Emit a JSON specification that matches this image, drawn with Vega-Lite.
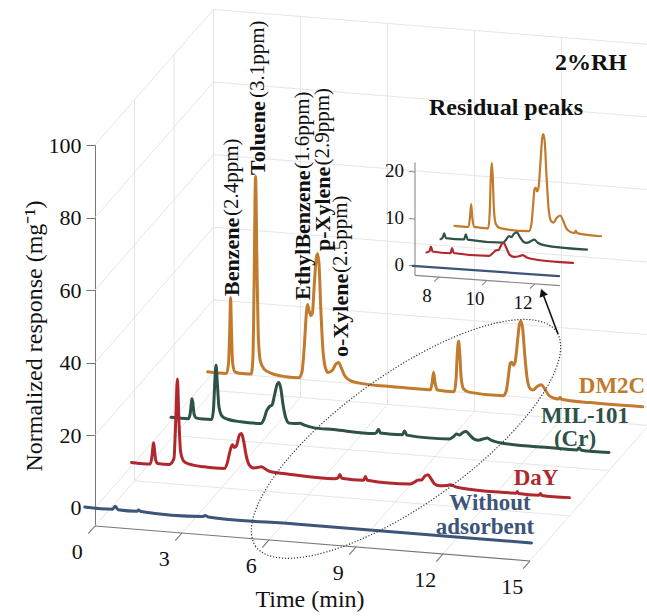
{
  "$schema": "https://vega.github.io/schema/vega-lite/v6.json",
  "width": 552,
  "height": 381,
  "autosize": "none",
  "padding": {"left": 95, "top": 145, "right": 0, "bottom": 90},
  "datasets": {
    "traces": [
      {"s": "DM2C", "t": -0.2, "z": 0}, {"s": "DM2C", "t": 0.45, "z": 0}, {"s": "DM2C", "t": 0.52, "z": 3}, {"s": "DM2C", "t": 0.56, "z": 12}, {"s": "DM2C", "t": 0.59, "z": 21}, {"s": "DM2C", "t": 0.62, "z": 12}, {"s": "DM2C", "t": 0.66, "z": 3}, {"s": "DM2C", "t": 0.74, "z": 0.6}, {"s": "DM2C", "t": 0.9, "z": 0.3},
      {"s": "DM2C", "t": 1.3, "z": 0.4}, {"s": "DM2C", "t": 1.36, "z": 5}, {"s": "DM2C", "t": 1.4, "z": 25}, {"s": "DM2C", "t": 1.45, "z": 55}, {"s": "DM2C", "t": 1.5, "z": 30}, {"s": "DM2C", "t": 1.55, "z": 10}, {"s": "DM2C", "t": 1.62, "z": 4}, {"s": "DM2C", "t": 1.75, "z": 2}, {"s": "DM2C", "t": 2.0, "z": 1}, {"s": "DM2C", "t": 2.5, "z": 0.4},
      {"s": "DM2C", "t": 2.95, "z": 0.4}, {"s": "DM2C", "t": 3.05, "z": 2}, {"s": "DM2C", "t": 3.13, "z": 9}, {"s": "DM2C", "t": 3.2, "z": 18}, {"s": "DM2C", "t": 3.24, "z": 20.8}, {"s": "DM2C", "t": 3.3, "z": 19}, {"s": "DM2C", "t": 3.36, "z": 17.8}, {"s": "DM2C", "t": 3.41, "z": 18.5}, {"s": "DM2C", "t": 3.48, "z": 27}, {"s": "DM2C", "t": 3.55, "z": 34}, {"s": "DM2C", "t": 3.59, "z": 35}, {"s": "DM2C", "t": 3.64, "z": 32}, {"s": "DM2C", "t": 3.7, "z": 20}, {"s": "DM2C", "t": 3.77, "z": 9}, {"s": "DM2C", "t": 3.85, "z": 4}, {"s": "DM2C", "t": 3.95, "z": 2.5},
      {"s": "DM2C", "t": 4.1, "z": 3.2}, {"s": "DM2C", "t": 4.22, "z": 5}, {"s": "DM2C", "t": 4.31, "z": 5.5}, {"s": "DM2C", "t": 4.4, "z": 4.2}, {"s": "DM2C", "t": 4.52, "z": 2}, {"s": "DM2C", "t": 4.7, "z": 0.8}, {"s": "DM2C", "t": 5.0, "z": 0.3}, {"s": "DM2C", "t": 6.0, "z": 0}, {"s": "DM2C", "t": 6.9, "z": 0},
      {"s": "DM2C", "t": 7.48, "z": 0}, {"s": "DM2C", "t": 7.54, "z": 2}, {"s": "DM2C", "t": 7.59, "z": 4.9}, {"s": "DM2C", "t": 7.64, "z": 2}, {"s": "DM2C", "t": 7.72, "z": 0.1},
      {"s": "DM2C", "t": 8.3, "z": 0}, {"s": "DM2C", "t": 8.36, "z": 3}, {"s": "DM2C", "t": 8.41, "z": 11}, {"s": "DM2C", "t": 8.45, "z": 14}, {"s": "DM2C", "t": 8.49, "z": 11}, {"s": "DM2C", "t": 8.54, "z": 4}, {"s": "DM2C", "t": 8.62, "z": 1}, {"s": "DM2C", "t": 8.8, "z": 0.2},
      {"s": "DM2C", "t": 10.0, "z": 0}, {"s": "DM2C", "t": 10.1, "z": 1.5}, {"s": "DM2C", "t": 10.17, "z": 5.5}, {"s": "DM2C", "t": 10.23, "z": 9}, {"s": "DM2C", "t": 10.28, "z": 9.4}, {"s": "DM2C", "t": 10.34, "z": 8.6}, {"s": "DM2C", "t": 10.4, "z": 9.5}, {"s": "DM2C", "t": 10.48, "z": 15}, {"s": "DM2C", "t": 10.55, "z": 20}, {"s": "DM2C", "t": 10.6, "z": 20.9}, {"s": "DM2C", "t": 10.66, "z": 19}, {"s": "DM2C", "t": 10.73, "z": 12}, {"s": "DM2C", "t": 10.82, "z": 5}, {"s": "DM2C", "t": 10.92, "z": 2.5},
      {"s": "DM2C", "t": 11.02, "z": 2.2}, {"s": "DM2C", "t": 11.15, "z": 3.2}, {"s": "DM2C", "t": 11.3, "z": 3.8}, {"s": "DM2C", "t": 11.42, "z": 2.8}, {"s": "DM2C", "t": 11.55, "z": 1.2}, {"s": "DM2C", "t": 11.75, "z": 0.4}, {"s": "DM2C", "t": 11.9, "z": 0.3}, {"s": "DM2C", "t": 11.95, "z": 0.8}, {"s": "DM2C", "t": 12.0, "z": 0.3}, {"s": "DM2C", "t": 13.0, "z": 0}, {"s": "DM2C", "t": 14.8, "z": 0},

      {"s": "MIL-101", "t": -0.1, "z": 0}, {"s": "MIL-101", "t": 0.5, "z": 0}, {"s": "MIL-101", "t": 0.56, "z": 1.5}, {"s": "MIL-101", "t": 0.6, "z": 4.5}, {"s": "MIL-101", "t": 0.62, "z": 5.6}, {"s": "MIL-101", "t": 0.65, "z": 4.5}, {"s": "MIL-101", "t": 0.69, "z": 1.5}, {"s": "MIL-101", "t": 0.76, "z": 0.4}, {"s": "MIL-101", "t": 1.0, "z": 0.2},
      {"s": "MIL-101", "t": 1.3, "z": 0.3}, {"s": "MIL-101", "t": 1.36, "z": 3}, {"s": "MIL-101", "t": 1.41, "z": 11}, {"s": "MIL-101", "t": 1.45, "z": 15.3}, {"s": "MIL-101", "t": 1.49, "z": 11}, {"s": "MIL-101", "t": 1.55, "z": 4}, {"s": "MIL-101", "t": 1.65, "z": 1.5}, {"s": "MIL-101", "t": 1.85, "z": 0.7}, {"s": "MIL-101", "t": 2.3, "z": 0.3},
      {"s": "MIL-101", "t": 3.0, "z": 0.3}, {"s": "MIL-101", "t": 3.1, "z": 1.5}, {"s": "MIL-101", "t": 3.2, "z": 4}, {"s": "MIL-101", "t": 3.3, "z": 5.2}, {"s": "MIL-101", "t": 3.38, "z": 5.6}, {"s": "MIL-101", "t": 3.47, "z": 8.5}, {"s": "MIL-101", "t": 3.56, "z": 11.5}, {"s": "MIL-101", "t": 3.62, "z": 12}, {"s": "MIL-101", "t": 3.68, "z": 10.5}, {"s": "MIL-101", "t": 3.76, "z": 6}, {"s": "MIL-101", "t": 3.85, "z": 2.5}, {"s": "MIL-101", "t": 3.97, "z": 1},
      {"s": "MIL-101", "t": 4.15, "z": 1}, {"s": "MIL-101", "t": 4.34, "z": 1.2}, {"s": "MIL-101", "t": 4.5, "z": 0.8}, {"s": "MIL-101", "t": 4.8, "z": 0.3}, {"s": "MIL-101", "t": 5.5, "z": 0.2}, {"s": "MIL-101", "t": 6.9, "z": 0},
      {"s": "MIL-101", "t": 6.98, "z": 0.3}, {"s": "MIL-101", "t": 7.05, "z": 1.3}, {"s": "MIL-101", "t": 7.12, "z": 0.3}, {"s": "MIL-101", "t": 7.88, "z": 0.3}, {"s": "MIL-101", "t": 7.95, "z": 1.4}, {"s": "MIL-101", "t": 8.03, "z": 0.3},
      {"s": "MIL-101", "t": 9.5, "z": 0.2}, {"s": "MIL-101", "t": 9.62, "z": 0.8}, {"s": "MIL-101", "t": 9.75, "z": 1.7}, {"s": "MIL-101", "t": 9.85, "z": 1.5}, {"s": "MIL-101", "t": 9.95, "z": 2.2}, {"s": "MIL-101", "t": 10.08, "z": 2.6}, {"s": "MIL-101", "t": 10.2, "z": 1.7}, {"s": "MIL-101", "t": 10.35, "z": 0.7}, {"s": "MIL-101", "t": 10.5, "z": 0.5}, {"s": "MIL-101", "t": 10.65, "z": 0.9}, {"s": "MIL-101", "t": 10.8, "z": 1.3}, {"s": "MIL-101", "t": 10.95, "z": 0.7}, {"s": "MIL-101", "t": 11.2, "z": 0.3},
      {"s": "MIL-101", "t": 13.0, "z": 0}, {"s": "MIL-101", "t": 13.9, "z": 0}, {"s": "MIL-101", "t": 13.97, "z": 0.6}, {"s": "MIL-101", "t": 14.05, "z": 0}, {"s": "MIL-101", "t": 15.0, "z": 0},

      {"s": "DaY", "t": -0.1, "z": 0}, {"s": "DaY", "t": 0.55, "z": 0}, {"s": "DaY", "t": 0.6, "z": 2}, {"s": "DaY", "t": 0.64, "z": 5}, {"s": "DaY", "t": 0.66, "z": 5.9}, {"s": "DaY", "t": 0.69, "z": 4}, {"s": "DaY", "t": 0.73, "z": 1.2}, {"s": "DaY", "t": 0.8, "z": 0.3},
      {"s": "DaY", "t": 1.2, "z": 0.3}, {"s": "DaY", "t": 1.36, "z": 2}, {"s": "DaY", "t": 1.42, "z": 12}, {"s": "DaY", "t": 1.48, "z": 24}, {"s": "DaY", "t": 1.53, "z": 13}, {"s": "DaY", "t": 1.59, "z": 4}, {"s": "DaY", "t": 1.7, "z": 1.5}, {"s": "DaY", "t": 1.9, "z": 0.8}, {"s": "DaY", "t": 2.4, "z": 0.4},
      {"s": "DaY", "t": 3.1, "z": 0.4}, {"s": "DaY", "t": 3.2, "z": 2}, {"s": "DaY", "t": 3.3, "z": 5.5}, {"s": "DaY", "t": 3.38, "z": 7.1}, {"s": "DaY", "t": 3.45, "z": 6.4}, {"s": "DaY", "t": 3.52, "z": 7}, {"s": "DaY", "t": 3.62, "z": 10}, {"s": "DaY", "t": 3.69, "z": 10.4}, {"s": "DaY", "t": 3.76, "z": 8.5}, {"s": "DaY", "t": 3.85, "z": 4.5}, {"s": "DaY", "t": 3.95, "z": 2},
      {"s": "DaY", "t": 4.1, "z": 1.2}, {"s": "DaY", "t": 4.25, "z": 1.4}, {"s": "DaY", "t": 4.38, "z": 1.7}, {"s": "DaY", "t": 4.5, "z": 1.2}, {"s": "DaY", "t": 4.7, "z": 0.5}, {"s": "DaY", "t": 5.2, "z": 0.3}, {"s": "DaY", "t": 6.9, "z": 0},
      {"s": "DaY", "t": 7.02, "z": 0.3}, {"s": "DaY", "t": 7.08, "z": 1.3}, {"s": "DaY", "t": 7.15, "z": 0.3}, {"s": "DaY", "t": 7.9, "z": 0.2}, {"s": "DaY", "t": 7.96, "z": 1.3}, {"s": "DaY", "t": 8.03, "z": 0.3},
      {"s": "DaY", "t": 9.5, "z": 0.2}, {"s": "DaY", "t": 9.65, "z": 0.8}, {"s": "DaY", "t": 9.79, "z": 1.5}, {"s": "DaY", "t": 9.9, "z": 1.6}, {"s": "DaY", "t": 10.02, "z": 2.8}, {"s": "DaY", "t": 10.12, "z": 3.2}, {"s": "DaY", "t": 10.22, "z": 2.2}, {"s": "DaY", "t": 10.35, "z": 0.8}, {"s": "DaY", "t": 10.55, "z": 0.4}, {"s": "DaY", "t": 10.75, "z": 0.6}, {"s": "DaY", "t": 10.9, "z": 0.9}, {"s": "DaY", "t": 11.05, "z": 0.5}, {"s": "DaY", "t": 11.3, "z": 0.2},
      {"s": "DaY", "t": 13.0, "z": 0}, {"s": "DaY", "t": 13.15, "z": 0}, {"s": "DaY", "t": 13.2, "z": 0.5}, {"s": "DaY", "t": 13.25, "z": 0}, {"s": "DaY", "t": 13.95, "z": 0}, {"s": "DaY", "t": 14.0, "z": 0.5}, {"s": "DaY", "t": 14.05, "z": 0}, {"s": "DaY", "t": 15.0, "z": 0},

      {"s": "Without adsorbent", "t": -0.35, "z": 0}, {"s": "Without adsorbent", "t": 0.6, "z": 0}, {"s": "Without adsorbent", "t": 0.7, "z": 0.9}, {"s": "Without adsorbent", "t": 0.8, "z": 0}, {"s": "Without adsorbent", "t": 1.45, "z": 0}, {"s": "Without adsorbent", "t": 1.5, "z": 0.4}, {"s": "Without adsorbent", "t": 1.58, "z": 0}, {"s": "Without adsorbent", "t": 3.7, "z": 0}, {"s": "Without adsorbent", "t": 3.8, "z": 0.3}, {"s": "Without adsorbent", "t": 3.9, "z": 0}, {"s": "Without adsorbent", "t": 6.9, "z": 0}, {"s": "Without adsorbent", "t": 13.0, "z": 0}, {"s": "Without adsorbent", "t": 15.05, "z": 0}
    ],
    "grid": [
      {"t1": 0, "d1": 0, "z1": -5, "t2": 0, "d2": 3, "z2": -5},
      {"t1": 3, "d1": 0, "z1": -5, "t2": 3, "d2": 3, "z2": -5},
      {"t1": 6, "d1": 0, "z1": -5, "t2": 6, "d2": 3, "z2": -5},
      {"t1": 9, "d1": 0, "z1": -5, "t2": 9, "d2": 3, "z2": -5},
      {"t1": 12, "d1": 0, "z1": -5, "t2": 12, "d2": 3, "z2": -5},
      {"t1": 15, "d1": 0, "z1": -5, "t2": 15, "d2": 3, "z2": -5},
      {"t1": 0, "d1": 1, "z1": -5, "t2": 15, "d2": 1, "z2": -5},
      {"t1": 0, "d1": 2, "z1": -5, "t2": 15, "d2": 2, "z2": -5},
      {"t1": 0, "d1": 3, "z1": -5, "t2": 15, "d2": 3, "z2": -5},
      {"t1": 0, "d1": 0, "z1": 0, "t2": 0, "d2": 3, "z2": 0},
      {"t1": 0, "d1": 0, "z1": 20, "t2": 0, "d2": 3, "z2": 20},
      {"t1": 0, "d1": 0, "z1": 40, "t2": 0, "d2": 3, "z2": 40},
      {"t1": 0, "d1": 0, "z1": 60, "t2": 0, "d2": 3, "z2": 60},
      {"t1": 0, "d1": 0, "z1": 80, "t2": 0, "d2": 3, "z2": 80},
      {"t1": 0, "d1": 0, "z1": 100, "t2": 0, "d2": 3, "z2": 100},
      {"t1": 0, "d1": 1, "z1": -5, "t2": 0, "d2": 1, "z2": 100},
      {"t1": 0, "d1": 2, "z1": -5, "t2": 0, "d2": 2, "z2": 100},
      {"t1": 0, "d1": 3, "z1": -5, "t2": 0, "d2": 3, "z2": 100},
      {"t1": 0, "d1": 3, "z1": 0, "t2": 15, "d2": 3, "z2": 0},
      {"t1": 0, "d1": 3, "z1": 20, "t2": 15, "d2": 3, "z2": 20},
      {"t1": 0, "d1": 3, "z1": 40, "t2": 15, "d2": 3, "z2": 40},
      {"t1": 0, "d1": 3, "z1": 60, "t2": 15, "d2": 3, "z2": 60},
      {"t1": 0, "d1": 3, "z1": 80, "t2": 15, "d2": 3, "z2": 80},
      {"t1": 0, "d1": 3, "z1": 100, "t2": 15, "d2": 3, "z2": 100},
      {"t1": 3, "d1": 3, "z1": -5, "t2": 3, "d2": 3, "z2": 100},
      {"t1": 6, "d1": 3, "z1": -5, "t2": 6, "d2": 3, "z2": 100},
      {"t1": 9, "d1": 3, "z1": -5, "t2": 9, "d2": 3, "z2": 100},
      {"t1": 12, "d1": 3, "z1": -5, "t2": 12, "d2": 3, "z2": 100},
      {"t1": 15, "d1": 3, "z1": -5, "t2": 15, "d2": 3, "z2": 100}
    ],
    "taxis": [
      {"t1": 0, "d1": 0, "z1": -5, "t2": 15, "d2": 0, "z2": -5},
      {"t1": 0, "d1": 0, "z1": -5, "t2": 0, "d2": -0.17, "z2": -5},
      {"t1": 3, "d1": 0, "z1": -5, "t2": 3, "d2": -0.17, "z2": -5},
      {"t1": 6, "d1": 0, "z1": -5, "t2": 6, "d2": -0.17, "z2": -5},
      {"t1": 9, "d1": 0, "z1": -5, "t2": 9, "d2": -0.17, "z2": -5},
      {"t1": 12, "d1": 0, "z1": -5, "t2": 12, "d2": -0.17, "z2": -5},
      {"t1": 15, "d1": 0, "z1": -5, "t2": 15, "d2": -0.17, "z2": -5}
    ],
    "tlabels": [
      {"t": 0, "label": "0"}, {"t": 3, "label": "3"}, {"t": 6, "label": "6"},
      {"t": 9, "label": "9"}, {"t": 12, "label": "12"}, {"t": 15, "label": "15"}
    ],
    "iaxis": [
      {"t1": 7, "d1": 0, "z1": -2, "t2": 7, "d2": 0, "z2": 22},
      {"t1": 6.75, "d1": 0, "z1": 0, "t2": 7, "d2": 0, "z2": 0},
      {"t1": 6.75, "d1": 0, "z1": 10, "t2": 7, "d2": 0, "z2": 10},
      {"t1": 6.75, "d1": 0, "z1": 20, "t2": 7, "d2": 0, "z2": 20},
      {"t1": 7, "d1": 0, "z1": -2, "t2": 13.04, "d2": 0, "z2": -2},
      {"t1": 8, "d1": 0, "z1": -2, "t2": 8, "d2": -0.35, "z2": -2},
      {"t1": 10, "d1": 0, "z1": -2, "t2": 10, "d2": -0.35, "z2": -2},
      {"t1": 12, "d1": 0, "z1": -2, "t2": 12, "d2": -0.35, "z2": -2}
    ],
    "ixlabels": [{"t": 8, "label": "8"}, {"t": 10, "label": "10"}, {"t": 12, "label": "12"}],
    "iylabels": [{"z": 0, "label": "0"}, {"z": 10, "label": "10"}, {"z": 20, "label": "20"}],
    "peaks": [
      {"name": "Benzene", "ppm": "(2.4ppm)", "t": 0.638, "z": 21.46, "zp": 43.5},
      {"name": "Toluene", "ppm": "(3.1ppm)", "t": 1.535, "z": 55.38, "zp": 76.56},
      {"name": "EthylBenzene", "ppm": "(1.6ppm)", "t": 3.086, "z": 21.93, "zp": 58.02},
      {"name": "p-Xylene", "ppm": "(2.9ppm)", "t": 3.776, "z": 35.87, "zp": 59.42},
      {"name": "o-Xylene", "ppm": "(2.5ppm)", "t": 4.397, "z": 7.07, "zp": 30.2}
    ],
    "serieslabels": [
      {"s": "DM2C", "text": "DM2C", "X": 17.828, "Y": 33.61},
      {"s": "MIL-101", "text": "MIL-101", "X": 16.897, "Y": 25.3},
      {"s": "MIL-101", "text": "(Cr)", "X": 16.552, "Y": 18.9},
      {"s": "DaY", "text": "DaY", "X": 15.207, "Y": 8.26},
      {"s": "Without adsorbent", "text": "Without", "X": 13.621, "Y": 1.3},
      {"s": "Without adsorbent", "text": "adsorbent", "X": 13.448, "Y": -5.2}
    ],
    "notes": [
      {"text": "2%RH", "X": 17.103, "Y": 122.59},
      {"text": "Residual peaks", "X": 14.172, "Y": 110.19}
    ],
    "xtitle": [{"text": "Time (min)", "X": 7.414, "Y": -25.34}],
    "ellipse": [{"X": 10.724, "Y": 19.01}],
    "arrow": [{"X": 15.966, "Y": 47.93, "X2": 15.428, "Y2": 59.34}],
    "arrowhead": [{"X": 15.428, "Y": 59.34}]
  },
  "encoding": {
    "x": {"field": "X", "type": "quantitative", "scale": {"domain": [0, 19.0345], "nice": false, "zero": false}, "axis": null},
    "y": {
      "field": "Y",
      "type": "quantitative",
      "scale": {"domain": [-5, 100], "nice": false, "zero": false},
      "axis": {
        "values": [0, 20, 40, 60, 80, 100],
        "title": "Normalized response (mg⁻¹)",
        "titleFont": "Liberation Serif",
        "titleFontSize": 24,
        "titleFontWeight": "normal",
        "titleColor": "#111",
        "titlePadding": 2,
        "labelFont": "Liberation Serif",
        "labelFontSize": 22,
        "labelColor": "#111",
        "labelPadding": 5,
        "tickSize": 9,
        "tickColor": "#777",
        "domainColor": "#777",
        "grid": false
      }
    }
  },
  "layer": [
    {
      "data": {"name": "grid"},
      "transform": [
        {"calculate": "datum.t1 + 1.362 * datum.d1", "as": "X"},
        {"calculate": "datum.z1 - 0.642 * datum.t1 + 12.45 * datum.d1", "as": "Y"},
        {"calculate": "datum.t2 + 1.362 * datum.d2", "as": "X2"},
        {"calculate": "datum.z2 - 0.642 * datum.t2 + 12.45 * datum.d2", "as": "Y2"}
      ],
      "mark": {"type": "rule", "color": "#e2e2e2", "strokeWidth": 0.9},
      "encoding": {"x2": {"field": "X2"}, "y2": {"field": "Y2"}}
    },
    {
      "data": {"name": "taxis"},
      "transform": [
        {"calculate": "datum.t1 + 1.362 * datum.d1", "as": "X"},
        {"calculate": "datum.z1 - 0.642 * datum.t1 + 12.45 * datum.d1", "as": "Y"},
        {"calculate": "datum.t2 + 1.362 * datum.d2", "as": "X2"},
        {"calculate": "datum.z2 - 0.642 * datum.t2 + 12.45 * datum.d2", "as": "Y2"}
      ],
      "mark": {"type": "rule", "color": "#777", "strokeWidth": 1.1},
      "encoding": {"x2": {"field": "X2"}, "y2": {"field": "Y2"}}
    },
    {
      "data": {"name": "traces"},
      "transform": [
        {"calculate": "indexof(['Without adsorbent', 'DaY', 'MIL-101', 'DM2C'], datum.s)", "as": "d"},
        {"calculate": "datum.t + 1.362 * datum.d", "as": "X"},
        {"calculate": "datum.z - 0.642 * datum.t + 12.45 * datum.d", "as": "Y"}
      ],
      "mark": {"type": "line", "interpolate": "monotone", "strokeWidth": 3, "strokeCap": "round", "strokeJoin": "round"},
      "encoding": {
        "color": {
          "field": "s",
          "type": "nominal",
          "scale": {"domain": ["DM2C", "MIL-101", "DaY", "Without adsorbent"], "range": ["#c27a2c", "#2f5248", "#b0282d", "#3c5578"]},
          "legend": null
        }
      }
    },
    {
      "data": {"name": "iaxis"},
      "transform": [
        {"calculate": "11.034 + 0.8276 * (datum.t1 - 7) + 0.4828 * datum.d1", "as": "X"},
        {"calculate": "66.667 + 1.2948 * datum.z1 - 0.4683 * (datum.t1 - 7) + 3.664 * datum.d1", "as": "Y"},
        {"calculate": "11.034 + 0.8276 * (datum.t2 - 7) + 0.4828 * datum.d2", "as": "X2"},
        {"calculate": "66.667 + 1.2948 * datum.z2 - 0.4683 * (datum.t2 - 7) + 3.664 * datum.d2", "as": "Y2"}
      ],
      "mark": {"type": "rule", "color": "#888", "strokeWidth": 1.1},
      "encoding": {"x2": {"field": "X2"}, "y2": {"field": "Y2"}}
    },
    {
      "data": {"name": "traces"},
      "transform": [
        {"filter": "datum.t >= 6.9 && datum.t <= 13.0"},
        {"calculate": "indexof(['Without adsorbent', 'DaY', 'MIL-101', 'DM2C'], datum.s)", "as": "d"},
        {"calculate": "11.034 + 0.8276 * (datum.t - 7) + 0.4828 * datum.d", "as": "X"},
        {"calculate": "66.667 + 1.2948 * datum.z - 0.4683 * (datum.t - 7) + 3.664 * datum.d", "as": "Y"}
      ],
      "mark": {"type": "line", "interpolate": "monotone", "strokeWidth": 2.2, "strokeCap": "round", "strokeJoin": "round"},
      "encoding": {
        "color": {"field": "s", "type": "nominal", "legend": null}
      }
    },
    {
      "data": {"name": "tlabels"},
      "transform": [
        {"calculate": "datum.t - 0.613", "as": "X"},
        {"calculate": "-12.1 - 0.642 * datum.t", "as": "Y"}
      ],
      "mark": {"type": "text", "font": "Liberation Serif", "fontSize": 22, "color": "#111", "align": "center", "baseline": "middle"},
      "encoding": {"text": {"field": "label"}}
    },
    {
      "data": {"name": "ixlabels"},
      "transform": [
        {"calculate": "11.034 + 0.8276 * (datum.t - 7) - 0.415", "as": "X"},
        {"calculate": "58.855 - 0.4683 * (datum.t - 7)", "as": "Y"}
      ],
      "mark": {"type": "text", "font": "Liberation Serif", "fontSize": 19, "color": "#111", "align": "center", "baseline": "middle"},
      "encoding": {"text": {"field": "label"}}
    },
    {
      "data": {"name": "iylabels"},
      "transform": [
        {"calculate": "10.653", "as": "X"},
        {"calculate": "66.882 + 1.2948 * datum.z", "as": "Y"}
      ],
      "mark": {"type": "text", "font": "Liberation Serif", "fontSize": 19, "color": "#111", "align": "right", "baseline": "middle"},
      "encoding": {"text": {"field": "label"}}
    },
    {
      "data": {"name": "peaks"},
      "transform": [
        {"calculate": "datum.t + 1.362 * 3", "as": "X"},
        {"calculate": "datum.z - 0.642 * datum.t + 12.45 * 3", "as": "Y"}
      ],
      "mark": {"type": "text", "font": "Liberation Serif", "fontSize": 22, "fontWeight": "bold", "color": "#111", "angle": -90, "align": "left", "baseline": "middle"},
      "encoding": {"text": {"field": "name"}}
    },
    {
      "data": {"name": "peaks"},
      "transform": [
        {"calculate": "datum.t + 1.362 * 3", "as": "X"},
        {"calculate": "datum.zp - 0.642 * datum.t + 12.45 * 3", "as": "Y"}
      ],
      "mark": {"type": "text", "font": "Liberation Serif", "fontSize": 21, "color": "#111", "angle": -90, "align": "left", "baseline": "middle"},
      "encoding": {"text": {"field": "ppm"}}
    },
    {
      "data": {"name": "serieslabels"},
      "mark": {"type": "text", "font": "Liberation Serif", "fontSize": 23, "fontWeight": "bold", "align": "center", "baseline": "middle"},
      "encoding": {
        "text": {"field": "text"},
        "color": {"field": "s", "type": "nominal", "legend": null}
      }
    },
    {
      "data": {"name": "notes"},
      "mark": {"type": "text", "font": "Liberation Serif", "fontSize": 24, "fontWeight": "bold", "color": "#111", "align": "center", "baseline": "middle"},
      "encoding": {"text": {"field": "text"}}
    },
    {
      "data": {"name": "xtitle"},
      "mark": {"type": "text", "font": "Liberation Serif", "fontSize": 24, "color": "#111", "align": "center", "baseline": "middle"},
      "encoding": {"text": {"field": "text"}}
    },
    {
      "data": {"name": "ellipse"},
      "mark": {
        "type": "point",
        "shape": "M -0.813 0.582 A 1 0.357 -35.6 0 1 0.813 -0.582 A 1 0.357 -35.6 0 1 -0.813 0.582 Z",
        "size": 136900,
        "filled": false,
        "stroke": "#333",
        "strokeWidth": 1.2,
        "strokeDash": [1.2, 1.8],
        "opacity": 1
      }
    },
    {
      "data": {"name": "arrow"},
      "mark": {"type": "rule", "color": "#111", "strokeWidth": 1.6},
      "encoding": {"x2": {"field": "X2"}, "y2": {"field": "Y2"}}
    },
    {
      "data": {"name": "arrowhead"},
      "mark": {"type": "point", "shape": "triangle-up", "size": 80, "filled": true, "color": "#111", "angle": -21, "opacity": 1}
    }
  ],
  "config": {
    "view": {"stroke": null},
    "font": "Liberation Serif"
  }
}
